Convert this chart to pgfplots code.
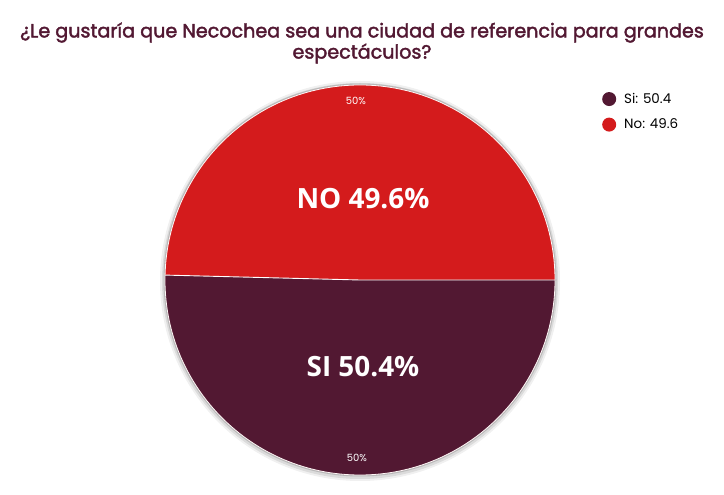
\documentclass[border=0pt]{standalone}
\usepackage{pgfplots}
\usepackage{pgfplotstable}
\pgfplotsset{compat=1.18}
\usepackage{fontspec}
\setmainfont{Poppins}
\newfontfamily\titlefont[FakeBold=2]{Poppins}
\newfontfamily\labelfont{Open Sans}
\definecolor{si}{HTML}{521832}
\definecolor{no}{HTML}{D41B1C}
\definecolor{titlec}{HTML}{521832}
\pgfplotstableread{
label value
Si 50.4
No 49.6
}\piedata
\begin{document}
\begin{tikzpicture}
\pgfplotstablegetelem{0}{value}\of\piedata \let\vsi\pgfplotsretval
\pgfplotstablegetelem{1}{value}\of\piedata \let\vno\pgfplotsretval
\pgfmathsetmacro\ano{\vno/(\vsi+\vno)*360}
\begin{axis}[width=724bp,height=495bp,scale only axis,
  xmin=0,xmax=724,ymin=0,ymax=495,hide axis,clip=false,
  legend style={draw=none,fill=none,at={(axis cs:599,406)},anchor=north west,
    font=\fontsize{13.5}{15}\selectfont,row sep=10bp,legend cell align=left},
  legend cell align=left]
\path (axis cs:0,0) rectangle (axis cs:724,495);
\addlegendimage{legend image code/.code={\fill[si,draw=none] (0bp,0bp) circle (7bp); \path[draw=none,fill=none] (-7bp,0bp) rectangle (13bp,0.1bp);}}
\addlegendentry{Si: \vsi}
\addlegendimage{legend image code/.code={\fill[no,draw=none] (0bp,0bp) circle (7bp); \path[draw=none,fill=none] (-7bp,0bp) rectangle (13bp,0.1bp);}}
\addlegendentry{No: \vno}
% shadow
\fill[black!6] (axis cs:360,214) circle (200bp);
\fill[black!14] (axis cs:360,214) circle (198bp);
\fill[black!28] (axis cs:360,215) circle (196.5bp);
% slices
\fill[no] (axis cs:360,215) -- ++(0:195bp) arc[start angle=0,end angle=\ano,radius=195bp] -- cycle;
\fill[si] (axis cs:360,215) -- ++(\ano:195bp) arc[start angle=\ano,end angle=360,radius=195bp] -- cycle;
\draw[white,line width=0.9bp] (axis cs:360,215) ++(\ano:195bp) -- (axis cs:360,215) -- ++(0:195bp);
\draw[white!85!pink,line width=0.8bp] (axis cs:360,215) circle (195bp);
% labels
\node[white,font=\labelfont\bfseries\fontsize{28}{30}\selectfont] at (axis cs:363,296) {NO \vno\%};
\node[white,font=\labelfont\bfseries\fontsize{28}{30}\selectfont] at (axis cs:363,128) {SI \vsi\%};
\node[white,font=\fontsize{10}{11}\selectfont] at (axis cs:356,394) {50\%};
\node[white,font=\fontsize{10}{11}\selectfont] at (axis cs:357,37) {50\%};
% title
\node[titlec,align=center,font=\titlefont\fontsize{19.2}{20}\selectfont] at (axis cs:362,452)
 {¿Le gustaría que Necochea sea una ciudad de referencia para grandes\\espectáculos?};
\end{axis}
\end{tikzpicture}
\end{document}
